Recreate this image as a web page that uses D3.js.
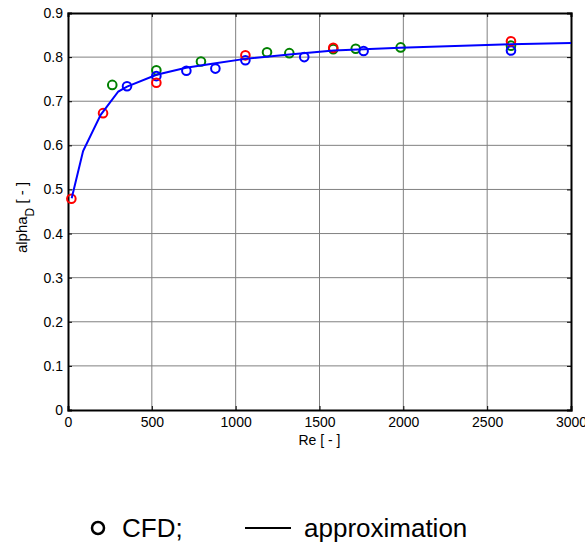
<!DOCTYPE html>
<html><head><meta charset="utf-8">
<script src="https://cdn.jsdelivr.net/npm/d3@7"></script>
<style>body{margin:0;background:#fff}svg{display:block}text{font-family:"Liberation Sans",Arial,sans-serif}</style>
</head><body><svg id="c" width="585" height="543"></svg>
<script>
const xTicks=[0,500,1000,1500,2000,2500,3000];
const yTicks=[0,0.1,0.2,0.3,0.4,0.5,0.6,0.7,0.8,0.9];
const redRe=[20,209,527,1058,1582,2642];
const redA=[0.479,0.673,0.742,0.804,0.821,0.836];
const greenRe=[264,527,793,1187,1320,1582,1716,1984,2642];
const greenA=[0.737,0.770,0.790,0.811,0.809,0.818,0.819,0.822,0.826];
const blueRe=[352,527,706,879,1058,1409,1763,2642];
const blueA=[0.734,0.757,0.769,0.774,0.793,0.800,0.814,0.815];
const fitRe=[22,90,195,300,352,528,704,880,1056,1320,1584,1980,2640,3000];
const fitA=[0.48,0.587,0.669,0.722,0.733,0.760,0.776,0.786,0.796,0.806,0.815,0.821,0.829,0.832];

const svg=d3.select("#c");
const L=68,R=571,T=13,B=410;
const x=d3.scaleLinear().domain([0,3000]).range([L,R]);
const y=d3.scaleLinear().domain([0,0.9]).range([B,T]);

// grid
const g=svg.append("g");
g.selectAll(".vx").data(xTicks.slice(1,-1)).join("line").attr("x1",d=>x(d)).attr("x2",d=>x(d)).attr("y1",T).attr("y2",B).attr("stroke","#808080").attr("stroke-width",1);
g.selectAll(".hy").data(yTicks.slice(1,-1)).join("line").attr("y1",d=>y(d)).attr("y2",d=>y(d)).attr("x1",L).attr("x2",R).attr("stroke","#808080").attr("stroke-width",1);

// axes
const xa=svg.append("g").attr("transform",`translate(0,${B})`).call(d3.axisBottom(x).tickValues(xTicks).tickSize(-4).tickPadding(7).tickFormat(d3.format("d")));
const xt=svg.append("g").attr("transform",`translate(0,${T})`).call(d3.axisTop(x).tickValues(xTicks).tickSize(-4).tickFormat(""));
const ya=svg.append("g").attr("transform",`translate(${L},0)`).call(d3.axisLeft(y).tickValues(yTicks).tickSize(-4).tickPadding(5).tickFormat(d=>d===0?"0":d3.format(".1f")(d)));
const yr=svg.append("g").attr("transform",`translate(${R},0)`).call(d3.axisRight(y).tickValues(yTicks).tickSize(-4).tickFormat(""));
[xa,xt,ya,yr].forEach(a=>{a.select(".domain").attr("stroke","#000").attr("stroke-width",2);a.selectAll(".tick line").attr("stroke","#000");a.selectAll("text").attr("font-size",14).attr("fill","#000").attr("font-family","Liberation Sans, Arial, sans-serif");});

// markers
function pts(xs,ys,col){
  svg.append("g").selectAll("circle").data(xs.map((v,i)=>[v,ys[i]])).join("circle")
   .attr("cx",d=>x(d[0])).attr("cy",d=>y(d[1])).attr("r",4.3).attr("fill","none").attr("stroke",col).attr("stroke-width",2);
}
pts(greenRe,greenA,"#008000");
pts(blueRe,blueA,"#0000ff");
pts(redRe,redA,"#ff0000");

// fit line
const line=d3.line().x((d,i)=>x(fitRe[i])).y(d=>y(d));
svg.append("path").attr("d",line(fitA)).attr("fill","none").attr("stroke","#0000ff").attr("stroke-width",2);

// labels
svg.append("text").attr("x",(L+R)/2).attr("y",445).attr("text-anchor","middle").attr("font-size",14).text("Re [ - ]");
const yl=svg.append("text").attr("transform",`translate(27,${(T+B)/2+6}) rotate(-90)`).attr("text-anchor","middle").attr("font-size",15);
yl.append("tspan").text("alpha");
yl.append("tspan").attr("baseline-shift","sub").attr("font-size",12).text("D");
yl.append("tspan").text(" [ - ]");

// legend
const lg=svg.append("g");
lg.append("circle").attr("cx",98).attr("cy",528).attr("r",6).attr("fill","none").attr("stroke","#000").attr("stroke-width",2.5);
lg.append("text").attr("x",122).attr("y",537).attr("font-size",26).text("CFD;");
lg.append("line").attr("x1",245).attr("x2",291).attr("y1",528).attr("y2",528).attr("stroke","#000").attr("stroke-width",2);
lg.append("text").attr("x",304).attr("y",537).attr("font-size",26).text("approximation");
</script></body></html>
